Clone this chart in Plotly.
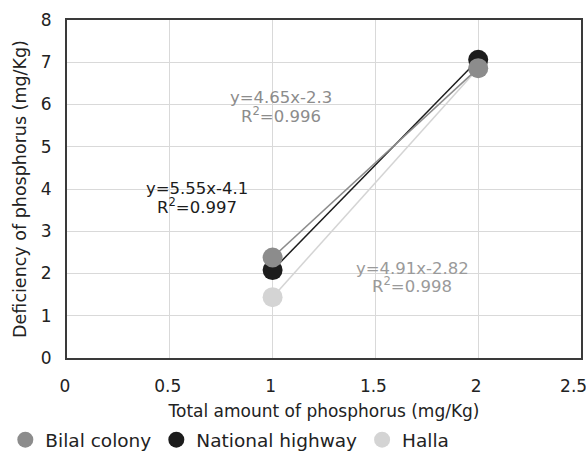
import plotly.graph_objects as go

# Data
x_vals = [1, 2]
bilal = [2.38, 6.86]
national = [2.08, 7.06]
halla = [1.44, 6.86]

x_tickvals = [0, 0.5, 1, 1.5, 2, 2.5]
x_ticktext = ["0", "0.5", "1", "1.5", "2", "2.5\u00a0\u00a0"]

series = [
    ("Halla", halla, "#d4d4d4"),
    ("National highway", national, "#1c1c1c"),
    ("Bilal colony", bilal, "#8c8c8c"),
]

# (line1, line2, x centre, y line1, y line2, colour)
equations = [
    ("y=4.65x-2.3", "R<sup>2</sup>=0.996", 1.04, 6.17, 5.76, "#8c8c8c"),
    ("y=5.55x-4.1", "R<sup>2</sup>=0.997", 0.63, 4.02, 3.6, "#1c1c1c"),
    ("y=4.91x-2.82", "R<sup>2</sup>=0.998", 1.68, 2.13, 1.72, "#9a9a9a"),
]

FONT = "DejaVu Sans"

fig = go.Figure()
for name, vals, col in series:
    fig.add_trace(go.Scatter(
        x=x_vals, y=vals, mode="lines", showlegend=False, hoverinfo="skip",
        line=dict(color=col, width=1.5),
    ))
    fig.add_trace(go.Scatter(
        x=x_vals, y=vals, name=name, mode="markers",
        marker=dict(color=col, size=20),
    ))

for l1, l2, ax, y1, y2, col in equations:
    for txt, ay in ((l1, y1), (l2, y2)):
        fig.add_annotation(x=ax, y=ay, text=txt, showarrow=False,
                           font=dict(color=col, size=16.5, family=FONT),
                           xref="x", yref="y", xanchor="center", yanchor="middle",
                           borderpad=0)

fig.update_layout(
    width=586, height=452,
    margin=dict(l=67, r=5, t=20, b=94, autoexpand=False),
    plot_bgcolor="white", paper_bgcolor="white",
    font=dict(family=FONT, size=17, color="#222222"),
    showlegend=True,
    legend=dict(orientation="h", x=-0.12, xanchor="left",
                y=-0.243, yanchor="middle",
                traceorder="reversed", font=dict(size=18.5, family=FONT),
                bgcolor="rgba(0,0,0,0)"),
    xaxis=dict(range=[0, 2.5], tickvals=x_tickvals, ticktext=x_ticktext,
               showgrid=True, gridcolor="#d9d9d9",
               showline=True, linecolor="#3a3a3a", linewidth=2, mirror=True,
               zeroline=False, ticks="outside", ticklen=12, tickcolor="rgba(0,0,0,0)",
               tickfont=dict(size=17), ticklabeloverflow="allow", ticklabelshift=-2,
               title=dict(text="Total amount of phosphorus (mg/Kg)", standoff=10,
                          font=dict(size=17))),
    yaxis=dict(range=[0, 8], dtick=1, showgrid=True, gridcolor="#d9d9d9",
               showline=True, linecolor="#3a3a3a", linewidth=2, mirror=True,
               zeroline=False, ticks="outside", ticklen=10, tickcolor="rgba(0,0,0,0)",
               tickfont=dict(size=17),
               title=dict(text="Deficiency of phosphorus (mg/Kg)", standoff=10,
                          font=dict(size=17.5))),
)

fig.write_html("out.html")
